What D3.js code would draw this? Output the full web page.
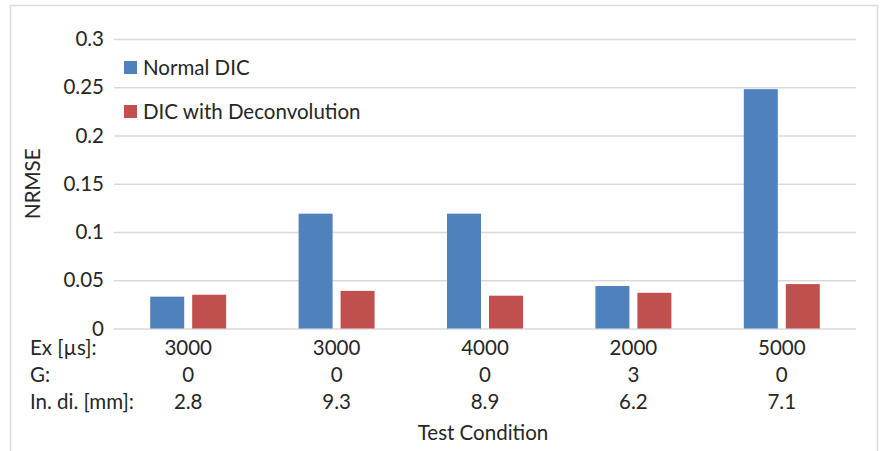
<!DOCTYPE html>
<html>
<head>
<meta charset="utf-8">
<script src="https://cdnjs.cloudflare.com/ajax/libs/d3/7.8.5/d3.min.js"></script>
<style>
  html, body { margin: 0; padding: 0; background: #fff; }
  svg text { font-family: Lato, "Open Sans", "Noto Sans", sans-serif; fill: #262626; }
</style>
</head>
<body>
<svg id="chart" width="880" height="451"></svg>
<script>
// Test conditions (one group per condition)
const conditions = ["c1", "c2", "c3", "c4", "c5"];
const exposure = ["3000", "3000", "4000", "2000", "5000"];
const gain = ["0", "0", "0", "3", "0"];
const initialDistance = ["2.8", "9.3", "8.9", "6.2", "7.1"];
const rowLabels = ["Ex [\u00b5s]:", "G:", "In. di. [mm]:"];

// NRMSE per condition
const seriesNames = ["Normal DIC", "DIC with Deconvolution"];
const normalDIC = [0.033, 0.119, 0.119, 0.044, 0.248];
const deconvDIC = [0.035, 0.039, 0.034, 0.037, 0.046];
const seriesColors = ["#4F81BD", "#C0504D"];

const yTicks = [0, 0.05, 0.1, 0.15, 0.2, 0.25, 0.3];

const FS = 20.5;
const svg = d3.select("#chart");
const plot = { left: 114, right: 856, top: 39, bottom: 328.5 };

// frame
svg.append("rect")
  .attr("x", 10.5).attr("y", 5.5)
  .attr("width", 867).attr("height", 450)
  .attr("fill", "#fff").attr("stroke", "#d9d9d9").attr("stroke-width", 1.5);

const x = d3.scaleBand().domain(conditions).range([plot.left, plot.right]).padding(0);
const y = d3.scaleLinear().domain([0, 0.3]).range([plot.bottom, plot.top]);

// gridlines + y tick labels
const yAxis = d3.axisLeft(y).tickValues(yTicks).tickSize(-(plot.right - plot.left))
  .tickPadding(10).tickFormat(d => String(+d.toFixed(2)));
const gy = svg.append("g").attr("transform", `translate(${plot.left},0)`).call(yAxis);
gy.select(".domain").remove();
gy.selectAll(".tick line").attr("stroke", "#d9d9d9").attr("stroke-width", 1.5);
gy.selectAll(".tick text").attr("font-size", FS).attr("fill", "#262626")
  .style("font-family", "Lato, 'Open Sans', sans-serif");

// bars
const barW = 34, gap = 8;
const series = [normalDIC, deconvDIC];
series.forEach((vals, si) => {
  svg.append("g").selectAll("rect")
    .data(vals)
    .join("rect")
    .attr("x", (d, i) => x(conditions[i]) + x.bandwidth() / 2 + (si === 0 ? -gap / 2 - barW : gap / 2))
    .attr("y", d => y(d))
    .attr("width", barW)
    .attr("height", d => y(0) - y(d))
    .attr("fill", seriesColors[si]);
});

// legend
const legend = svg.append("g");
seriesNames.forEach((name, i) => {
  const ly = 61 + i * 44;
  legend.append("rect").attr("x", 124).attr("y", ly).attr("width", 13).attr("height", 13)
    .attr("fill", seriesColors[i]);
  legend.append("text").attr("x", 143).attr("y", ly + 14).attr("font-size", FS).text(name);
});

// category label rows
const rows = [exposure, gain, initialDistance];
const rowY = [355, 382, 409];
rows.forEach((vals, r) => {
  svg.append("text").attr("x", 30).attr("y", rowY[r]).attr("font-size", FS).text(rowLabels[r]);
  svg.append("g").selectAll("text")
    .data(vals)
    .join("text")
    .attr("x", (d, i) => x(conditions[i]) + x.bandwidth() / 2)
    .attr("y", rowY[r])
    .attr("text-anchor", "middle")
    .attr("font-size", FS)
    .text(d => d);
});

// axis titles
svg.append("text").attr("x", 483).attr("y", 440).attr("text-anchor", "middle")
  .attr("font-size", FS).text("Test Condition");
svg.append("text")
  .attr("transform", `translate(40,${(plot.top + plot.bottom) / 2}) rotate(-90)`)
  .attr("text-anchor", "middle").attr("font-size", FS).text("NRMSE");
</script>
</body>
</html>
